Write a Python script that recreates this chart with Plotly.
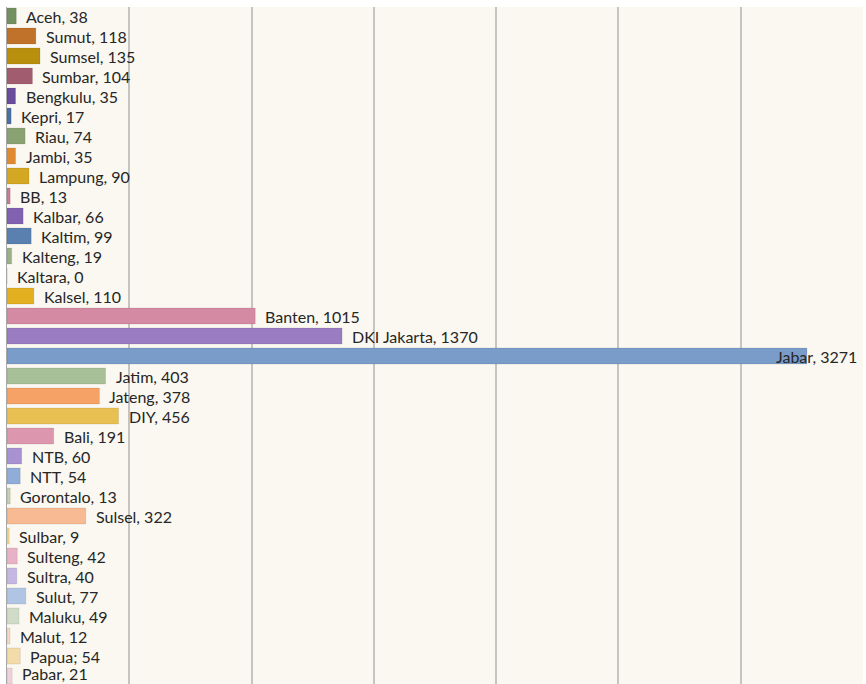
import plotly.graph_objects as go

provinces = ["Aceh", "Sumut", "Sumsel", "Sumbar", "Bengkulu", "Kepri", "Riau", "Jambi",
             "Lampung", "BB", "Kalbar", "Kaltim", "Kalteng", "Kaltara", "Kalsel", "Banten",
             "DKI Jakarta", "Jabar", "Jatim", "Jateng", "DIY", "Bali", "NTB", "NTT",
             "Gorontalo", "Sulsel", "Sulbar", "Sulteng", "Sultra", "Sulut", "Maluku",
             "Malut", "Papua", "Pabar"]
values = [38, 118, 135, 104, 35, 17, 74, 35, 90, 13, 66, 99, 19, 0, 110, 1015,
          1370, 3271, 403, 378, 456, 191, 60, 54, 13, 322, 9, 42, 40, 77, 49, 12, 54, 21]
separators = [", "] * len(provinces)
separators[provinces.index("Papua")] = "; "

colors = ["#74905e", "#c0722b", "#b8900e", "#a25c70", "#6a4c9c", "#4a70a2", "#8aa272",
          "#e08a32", "#d4a822", "#c87a9a", "#8062b0", "#5a80b0", "#9ab088", "#cccccc",
          "#e2b020", "#d48aa2", "#9a7cc2", "#7a9cc8", "#a8c098", "#f6a266", "#e8c052",
          "#dc96ae", "#a892d2", "#90acd8", "#c2d2b2", "#f8ba92", "#f0d890", "#e8b2c6",
          "#c6b6e2", "#b0c4e4", "#d0dcc8", "#f8d6c2", "#f4dcaa", "#f0d0dc"]

XMAX = 3500
FONT = dict(size=16, color="#262626", family="Lato")

fig = go.Figure()
fig.add_trace(go.Bar(
    x=values, y=provinces, orientation="h",
    marker=dict(color=colors, line=dict(color="rgba(0,0,0,0.15)", width=0.6)),
    hoverinfo="x+y",
))

annotations = []
last = len(provinces) - 1
for i, (name, v, sep) in enumerate(zip(provinces, values, separators)):
    label = f"{name}{sep}{v}"
    ys = 3 if i == last else 0
    if v > XMAX * 0.85:
        annotations.append(dict(x=XMAX, y=name, text=label, showarrow=False,
                                xanchor="right", xshift=-4, yshift=ys, font=FONT))
    else:
        annotations.append(dict(x=v, y=name, text=label, showarrow=False,
                                xanchor="left", xshift=8, yshift=ys, font=FONT))

fig.update_layout(
    width=866, height=684,
    margin=dict(l=7, r=3, t=7, b=0),
    paper_bgcolor="#ffffff",
    plot_bgcolor="#faf8f0",
    bargap=0.2,
    showlegend=False,
    annotations=annotations,
    xaxis=dict(range=[0, XMAX], dtick=500, showticklabels=False, showgrid=True,
               gridcolor="#c4c4c0", gridwidth=1.5, zeroline=False,
               showline=False),
    yaxis=dict(range=[33.4, -0.45], showticklabels=False, showgrid=False,
               showline=True, linecolor="#a8a8a8", linewidth=1, ticks=""),
)

fig.write_html("out.html", config={"displayModeBar": False},
               post_script="document.body.style.margin='0';document.body.style.padding='0';document.body.style.overflow='hidden';")
